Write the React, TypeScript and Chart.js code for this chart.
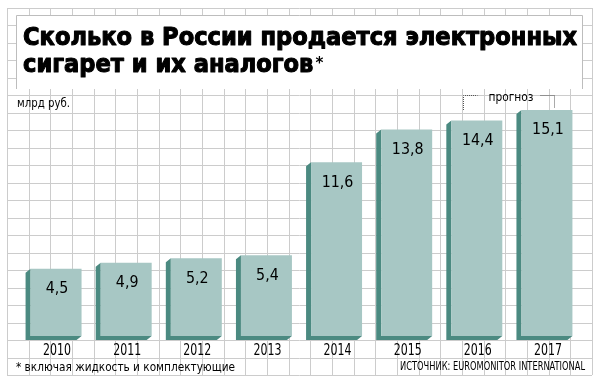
import React, { useEffect, useRef } from "react";
import { Chart, registerables } from "chart.js";

Chart.register(...registerables);

// ---- data ----
const years = ["2010", "2011", "2012", "2013", "2014", "2015", "2016", "2017"];
const sales = [4.5, 4.9, 5.2, 5.4, 11.6, 13.8, 14.4, 15.1];
const forecastStart = 6; // index of first forecast year
const titleLines = ["Сколько в России продается электронных", "сигарет и их аналогов"];
const titleMark = "*";
const unitLabel = "млрд руб.";
const forecastLabel = "прогноз";
const footnote = "* включая жидкость и комплектующие";
const sourceLabel = "ИСТОЧНИК: EUROMONITOR INTERNATIONAL";

// ---- styles ----
const W = 602;
const H = 386;
const FACE = "#a7c7c4";
const SHADOW = "#4b8a81";
const GRID = "#cccccc";
const NARROW = '"Liberation Sans Narrow", "DejaVu Sans Condensed", "DejaVu Sans", sans-serif';
const SANS = '"DejaVu Sans", sans-serif';

function drawFit(
  ctx: CanvasRenderingContext2D,
  text: string,
  x: number,
  y: number,
  font: string,
  width: number | null,
  align: "left" | "center" | "right" = "left",
  sxOverride?: number,
  strokeW = 0
) {
  ctx.save();
  ctx.font = font;
  ctx.textBaseline = "alphabetic";
  ctx.textAlign = align;
  const w = ctx.measureText(text).width;
  const sx = sxOverride ?? (width ? width / w : 1);
  ctx.translate(x, y);
  ctx.scale(sx, 1);
  ctx.fillText(text, 0, 0);
  if (strokeW > 0) {
    ctx.lineWidth = strokeW;
    ctx.lineJoin = "round";
    ctx.strokeStyle = ctx.fillStyle as string;
    ctx.strokeText(text, 0, 0);
  }
  ctx.restore();
  return w * sx;
}

const backgroundPlugin = {
  id: "paperGrid",
  beforeDraw(chart: any) {
    const ctx: CanvasRenderingContext2D = chart.ctx;
    ctx.save();
    ctx.fillStyle = "#ffffff";
    ctx.fillRect(0, 0, W, H);
    ctx.strokeStyle = GRID;
    ctx.lineWidth = 1;
    const x0 = 7, x1 = 592, y0 = 8, y1 = 375;
    const nx = 27, ny = 21;
    ctx.beginPath();
    for (let i = 0; i <= nx; i++) {
      const x = Math.round(x0 + ((x1 - x0) * i) / nx) + 0.5;
      ctx.moveTo(x, y0);
      ctx.lineTo(x, y1);
    }
    for (let j = 0; j <= ny; j++) {
      const y = Math.round(y0 + ((y1 - y0) * j) / ny) + 0.5;
      ctx.moveTo(x0, y);
      ctx.lineTo(x1, y);
    }
    ctx.stroke();
    // title box
    ctx.fillStyle = "#ffffff";
    ctx.fillRect(16, 15, 566, 74);
    ctx.strokeStyle = "#bdbdbd";
    ctx.beginPath();
    ctx.moveTo(16.5, 89);
    ctx.lineTo(16.5, 15.5);
    ctx.lineTo(582.5, 15.5);
    ctx.lineTo(582.5, 89);
    ctx.stroke();
    ctx.restore();
  },
  beforeDatasetsDraw(chart: any) {
    const ctx: CanvasRenderingContext2D = chart.ctx;
    const meta = chart.getDatasetMeta(0);
    ctx.save();
    ctx.fillStyle = SHADOW;
    const dx = 5, dy = 4;
    meta.data.forEach((el: any) => {
      const { x, y, base, width } = el.getProps(["x", "y", "base", "width"], true);
      const L = x - width / 2, R = x + width / 2;
      ctx.beginPath();
      ctx.moveTo(L, y);
      ctx.lineTo(L - dx, y + dy);
      ctx.lineTo(L - dx, base + dy);
      ctx.lineTo(R - dx, base + dy);
      ctx.lineTo(R, base);
      ctx.lineTo(L, base);
      ctx.closePath();
      ctx.fill();
    });
    ctx.restore();
  },
  afterDatasetsDraw(chart: any) {
    const ctx: CanvasRenderingContext2D = chart.ctx;
    const meta = chart.getDatasetMeta(0);
    const xs = chart.scales.x;
    ctx.save();
    ctx.fillStyle = "#000000";

    // title
    const tFont = `bold 24px ${SANS}`;
    drawFit(ctx, titleLines[0], 23, 45, tFont, 554, "left", undefined, 1.1);
    ctx.font = tFont;
    const sx = 554 / ctx.measureText(titleLines[0]).width;
    const w2 = drawFit(ctx, titleLines[1], 23, 72, tFont, null, "left", sx, 1.1);
    drawFit(ctx, titleMark, 23 + w2 + 2, 68, `bold 15px ${SANS}`, null);

    // unit
    drawFit(ctx, unitLabel, 17, 107, `13px ${NARROW}`, 53);

    // value labels
    meta.data.forEach((el: any, i: number) => {
      const { x, y } = el.getProps(["x", "y"], true);
      drawFit(
        ctx,
        sales[i].toFixed(1).replace(".", ","),
        x + 1,
        y + 24.5,
        `15px ${SANS}`,
        null,
        "center",
        0.95
      );
    });

    // year labels
    ctx.font = `15px ${NARROW}`;
    const ysx = 28 / ctx.measureText(years[0]).width;
    years.forEach((yr, i) => {
      drawFit(ctx, yr, xs.getPixelForValue(i) + 1, 354.5, `15px ${NARROW}`, null, "center", ysx);
    });

    // forecast bracket
    const left = Math.round(xs.getPixelForValue(forecastStart) - 14) + 0.5;
    const right = Math.round(xs.getPixelForValue(years.length - 1) + 7) + 0.5;
    ctx.strokeStyle = "#555555";
    ctx.lineWidth = 1;
    ctx.setLineDash([1, 1]);
    ctx.beginPath();
    ctx.moveTo(left, 110);
    ctx.lineTo(left, 95.5);
    ctx.lineTo(left + 14, 95.5);
    ctx.moveTo(right - 14, 95.5);
    ctx.lineTo(right, 95.5);
    ctx.lineTo(right, 108);
    ctx.stroke();
    ctx.setLineDash([]);
    drawFit(ctx, forecastLabel, (left + right) / 2 + 2, 101, `13px ${NARROW}`, 45, "center");

    // footnote & source
    drawFit(ctx, footnote, 16, 371, `13px ${NARROW}`, 219);
    drawFit(ctx, sourceLabel, 585, 370, `12px ${NARROW}`, 185, "right");
    ctx.restore();
  },
};

export default function App() {
  const ref = useRef<HTMLCanvasElement | null>(null);
  useEffect(() => {
    document.body.style.margin = "0";
    if (!ref.current) return;
    const chart = new Chart(ref.current, {
      type: "bar",
      data: {
        labels: years,
        datasets: [
          {
            data: sales,
            backgroundColor: FACE,
            borderWidth: 0,
            barPercentage: 0.727,
            categoryPercentage: 1,
          },
        ],
      },
      options: {
        responsive: false,
        animation: false,
        devicePixelRatio: 1,
        layout: { padding: { left: 21, right: 20, top: 96.5, bottom: 50 } },
        plugins: {
          legend: { display: false },
          tooltip: { enabled: false },
          title: { display: false },
        },
        scales: {
          x: { display: false },
          y: { display: false, min: 0, max: 16 },
        },
      },
      plugins: [backgroundPlugin],
    });
    return () => chart.destroy();
  }, []);
  return (
    <div style={{ position: "absolute", left: 0, top: 0, width: W, height: H }}>
      <canvas ref={ref} width={W} height={H} style={{ display: "block" }} />
    </div>
  );
}
